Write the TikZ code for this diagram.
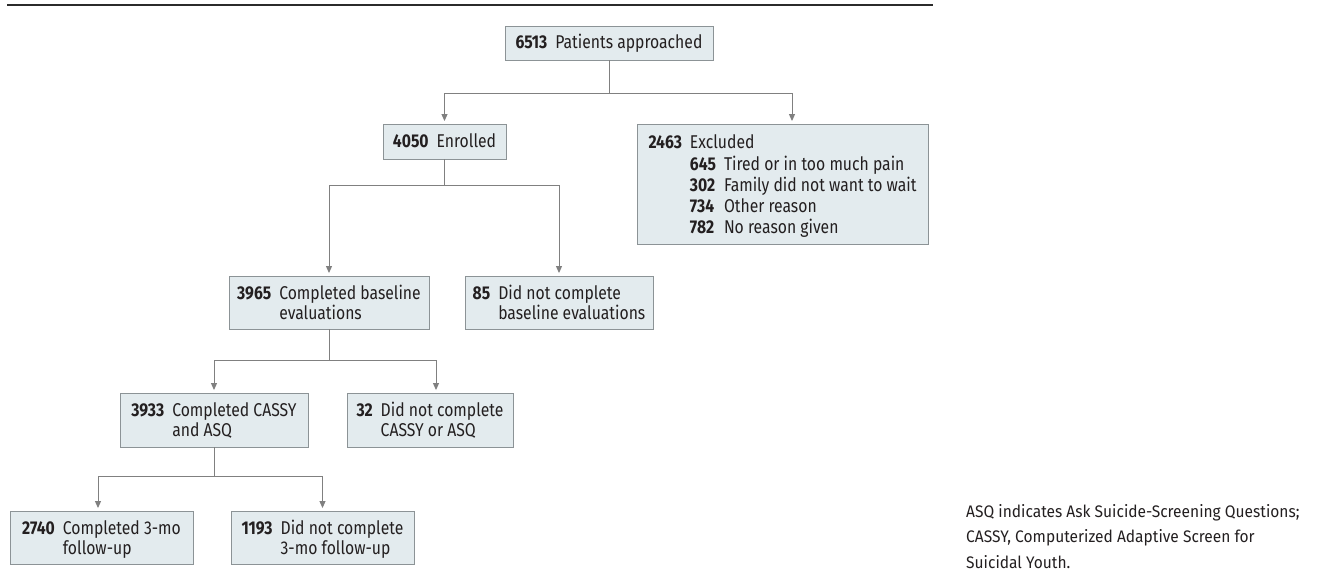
\documentclass[tikz,border=0pt]{standalone}
\usepackage{fontspec}
\setmainfont{Fira Sans}[FakeStretch=0.85]
\newfontfamily\capfam{Fira Sans}[FakeStretch=0.93]
\usetikzlibrary{arrows.meta}
\definecolor{boxfill}{HTML}{E3EBEE}
\definecolor{boxline}{HTML}{8C9396}
\definecolor{arrowgray}{HTML}{808080}
\definecolor{txt}{HTML}{231F20}
\definecolor{rulecol}{HTML}{2B2B2B}
\newcommand\boxfont{\fontsize{18.5}{20}\selectfont}
\newcommand\sinkby[2]{\raisebox{-#1}[\height][\depth]{#2}}
\newcommand\twol[3]{\sinkby{2.5pt}{\begin{tabular}{@{}l@{\hspace{8pt}}l@{}}\textbf{#1}&#2\\&#3\end{tabular}}}
\newcommand\onel[2]{\sinkby{1.5pt}{\begin{tabular}{@{}l@{\hspace{8pt}}l@{}}\textbf{#1}&#2\end{tabular}}}
\begin{document}
\begin{tikzpicture}[x=1pt,y=-1pt,
  box/.style={draw=boxline, fill=boxfill, line width=0.9pt, inner sep=0pt, font=\boxfont, text=txt},
  link/.style={draw=arrowgray, line width=1pt},
  arr/.style={link, -{Triangle[length=7pt,width=6pt]}, shorten >=2.5pt},
  capt/.style={inner sep=0pt, align=left, text=txt, font=\capfam\fontsize{16.7}{25.5}\selectfont},
  toprule/.style={draw=rulecol, line width=1.3pt}
]
\useasboundingbox (0,0) rectangle (1338,571);
\draw[toprule] (7,5) -- (933,5);

\node[box, minimum width=208pt, minimum height=34pt] (top) at (609,43) {\onel{6513}{Patients approached}};
\node[box, minimum width=123pt, minimum height=35pt] (enr) at (444.5,141.5) {\onel{4050}{Enrolled}};
\node[box, minimum width=291pt, minimum height=120pt] (exc) at (782.5,184)
  {\fontsize{18.5}{21.2}\selectfont\sinkby{3pt}{\begin{tabular}{@{}l@{\hspace{8pt}}l@{\hspace{8pt}}l@{}}
   \textbf{2463} & \multicolumn{2}{@{}l@{}}{Excluded}\\
   & \textbf{645} & Tired or in too much pain\\
   & \textbf{302} & Family did not want to wait\\
   & \textbf{734} & Other reason\\
   & \textbf{782} & No reason given
   \end{tabular}}};
\node[box, minimum width=200pt, minimum height=53pt] (b1) at (329,302.5) {\twol{3965}{Completed baseline}{evaluations}};
\node[box, minimum width=188pt, minimum height=53pt] (b2) at (559,302.5) {\twol{85}{Did not complete}{baseline evaluations}};
\node[box, minimum width=188pt, minimum height=54pt] (c1) at (214,420) {\twol{3933}{Completed CASSY}{and ASQ}};
\node[box, minimum width=166pt, minimum height=54pt] (c2) at (430,420) {\twol{32}{Did not complete}{CASSY or ASQ}};
\node[box, minimum width=183pt, minimum height=53pt] (d1) at (101.5,537.5) {\twol{2740}{Completed 3-mo}{follow-up}};
\node[box, minimum width=183pt, minimum height=53pt] (d2) at (322.5,537.5) {\twol{1193}{Did not complete}{3-mo follow-up}};

\node[capt, anchor=north west] (cap) at (966,504) {ASQ indicates Ask Suicide-Screening Questions;\\CASSY, Computerized Adaptive Screen for\\Suicidal Youth.};

\draw[link] (top.south) -- ++(0,33) coordinate (j1);
\draw[arr] (j1) -| (enr.north);
\draw[arr] (j1) -| ([xshift=9.5pt]exc.north);
\draw[link] (enr.south) -- ++(0,26) coordinate (j2);
\draw[arr] (j2) -| (b1.north);
\draw[arr] (j2) -| (b2.north);
\draw[link] (b1.south) -- ++(0,31) coordinate (j3);
\draw[arr] (j3) -| (c1.north);
\draw[arr] (j3) -| ([xshift=6pt]c2.north);
\draw[link] (c1.south) -- ++(0,29) coordinate (j4);
\draw[arr] (j4) -| ([xshift=-3.5pt]d1.north);
\draw[arr] (j4) -| (d2.north);
\end{tikzpicture}
\end{document}
